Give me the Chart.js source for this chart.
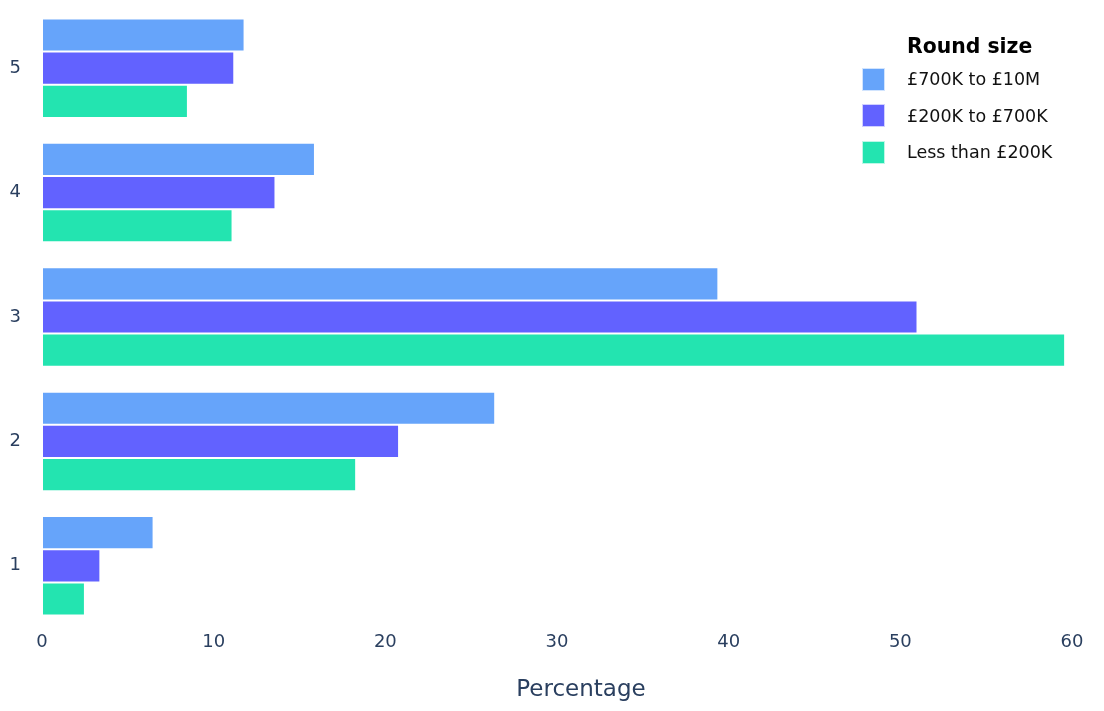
<!DOCTYPE html>
<html>
<head>
<meta charset="utf-8">
<script src="https://cdn.jsdelivr.net/npm/chart.js@4/dist/chart.umd.min.js"></script>
<style>
  html, body { margin: 0; padding: 0; background: #fff; }
  #wrap { position: relative; width: 1104px; height: 711px; }
  #legend { position: absolute; left: 0; top: 0; font-family: "DejaVu Sans", sans-serif; color: #111; }
  #legend .title { position: absolute; left: 907px; top: 33px; font-weight: bold; font-size: 20.4px; line-height: 26px; white-space: nowrap; color: #000; }
  #legend .item { position: absolute; left: 862px; display: flex; align-items: center; height: 36px; font-size: 17.5px; white-space: nowrap; }
  #legend .sw { width: 23px; height: 23px; margin-right: 22px; box-sizing: border-box; border: 1px solid rgba(255,255,255,0.7); }
  #xtitle { position: absolute; left: 581px; top: 688px; transform: translate(-50%, -50%); font-family: "DejaVu Sans", sans-serif; font-size: 23px; color: #2a3f5f; white-space: nowrap; line-height: 28px; }
</style>
</head>
<body>
<div id="wrap">
  <canvas id="c" width="1104" height="711"></canvas>
  <div id="legend"></div>
  <div id="xtitle"></div>
</div>
<script>
const categories = ['5', '4', '3', '2', '1'];
const seriesNames = ['£700K to £10M', '£200K to £700K', 'Less than £200K'];
const seriesColors = ['#66A4FA', '#6262FF', '#23E4B0'];
const big = [11.8, 15.9, 39.4, 26.4, 6.5];
const mid = [11.2, 13.6, 51.0, 20.8, 3.4];
const small = [8.5, 11.1, 59.6, 18.3, 2.5];
const xTicks = [0, 10, 20, 30, 40, 50, 60];
const legendTitle = 'Round size';
const xTitle = 'Percentage';

const seriesValues = [big, mid, small];
const tickColor = '#2a3f5f';
const fontFamily = '"DejaVu Sans", sans-serif';

const chart = new Chart(document.getElementById('c'), {
  type: 'bar',
  data: {
    labels: categories,
    datasets: seriesValues.map((vals, i) => ({
      label: seriesNames[i],
      data: vals,
      backgroundColor: seriesColors[i],
      borderColor: 'rgba(255,255,255,0.8)',
      borderWidth: 1,
      borderSkipped: false,
      categoryPercentage: 0.8,
      barPercentage: 1.0
    }))
  },
  options: {
    indexAxis: 'y',
    responsive: false,
    animation: false,
    layout: { padding: { top: 6, right: 32, left: 0, bottom: 0 } },
    plugins: { legend: { display: false }, tooltip: { enabled: false } },
    scales: {
      x: {
        min: 0, max: 60,
        afterBuildTicks: (ax) => { ax.ticks = xTicks.map(v => ({ value: v })); },
        grid: { display: false, drawTicks: false },
        border: { display: false },
        ticks: { color: tickColor, font: { family: fontFamily, size: 18 }, padding: 4, maxRotation: 0 },
        title: { display: false },
        afterFit: (ax) => { ax.height = 83; ax.paddingLeft = 0; ax.paddingRight = 0; }
      },
      y: {
        grid: { display: false, drawTicks: false },
        border: { display: false },
        ticks: { color: tickColor, font: { family: fontFamily, size: 18 }, padding: 21 },
        afterFit: (ax) => { ax.width = 42; ax.paddingTop = 0; ax.paddingBottom = 0; }
      }
    }
  }
});

document.getElementById('xtitle').textContent = xTitle;

const lg = document.getElementById('legend');
const t = document.createElement('div');
t.className = 'title';
t.textContent = legendTitle;
lg.appendChild(t);
seriesNames.forEach((n, i) => {
  const it = document.createElement('div');
  it.className = 'item';
  it.style.top = (61 + i * 36.5) + 'px';
  const sw = document.createElement('span');
  sw.className = 'sw';
  sw.style.background = seriesColors[i];
  const tx = document.createElement('span');
  tx.textContent = n;
  it.appendChild(sw);
  it.appendChild(tx);
  lg.appendChild(it);
});
</script>
</body>
</html>
